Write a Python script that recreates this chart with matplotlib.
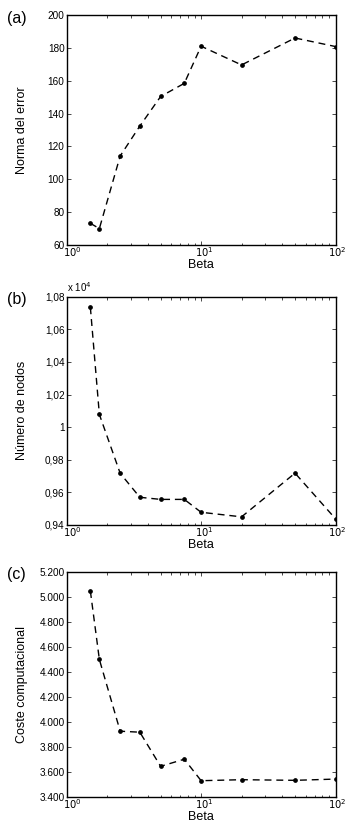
import numpy as np
import matplotlib
matplotlib.use("Agg")
import matplotlib.pyplot as plt
import matplotlib.transforms as mtrans
from matplotlib.ticker import FixedLocator, FixedFormatter, LogLocator, NullFormatter

plt.rcParams['font.family'] = ['Liberation Sans', 'DejaVu Sans']

# Data
beta = [1.5, 1.75, 2.5, 3.5, 5, 7.5, 10, 20, 50, 100]
error_norm = [73.2, 70.0, 114.2, 132.4, 150.4, 158.4, 181.0, 169.6, 186.0, 180.8]
num_nodes = [10735, 10078, 9717, 9570, 9557, 9557, 9478, 9450, 9718, 9438]
comp_cost = [5045, 4498, 3924, 3916, 3643, 3700, 3528, 3536, 3531, 3541]

# tick labels
ticks_a = [60, 80, 100, 120, 140, 160, 180, 200]
labels_a = [str(t) for t in ticks_a]
ticks_b = [9400, 9600, 9800, 10000, 10200, 10400, 10600, 10800]
labels_b = ['0,94', '0,96', '0,98', '1', '1,02', '1,04', '1,06', '1,08']
ticks_c = [3400, 3600, 3800, 4000, 4200, 4400, 4600, 4800, 5000, 5200]
labels_c = ['3.400', '3.600', '3.800', '4.000', '4.200', '4.400', '4.600', '4.800', '5.000', '5.200']

W, H = 347, 827
fig = plt.figure(figsize=(W / 100, H / 100), dpi=100)

def px_axes(top, bottom, left=66.7, right=335.5):
    return fig.add_axes([left / W, 1 - bottom / H, (right - left) / W, (bottom - top) / H])

panels = [
    (15, 245, error_norm, ticks_a, labels_a, 'Norma del error', '(a)'),
    (296.7, 525, num_nodes, ticks_b, labels_b, 'Número de nodos', '(b)'),
    (571.7, 796.7, comp_cost, ticks_c, labels_c, 'Coste computacional', '(c)'),
]

# small right shifts for the 10^0, 10^1, 10^2 labels (pixels)
xlabel_shift = [5.5, 3.5, 1.5]

for top, bottom, vals, yt, yl, ylabel, tag in panels:
    ax = px_axes(top, bottom)
    ax.plot(beta, vals, linestyle=(0, (5, 3.5)), color='black', linewidth=1.0,
            marker='o', markersize=2.4, markerfacecolor='black', markeredgecolor='black')
    ax.set_xscale('log')
    ax.set_xlim(1, 100)
    ax.set_ylim(yt[0], yt[-1])
    ax.yaxis.set_major_locator(FixedLocator(yt))
    ax.yaxis.set_major_formatter(FixedFormatter(yl))
    ax.xaxis.set_major_locator(FixedLocator([1, 10, 100]))
    ax.xaxis.set_major_formatter(FixedFormatter([r'$10^{0}$', r'$10^{1}$', r'$10^{2}$']))
    ax.xaxis.set_minor_locator(LogLocator(base=10, subs=np.arange(2, 10)))
    ax.xaxis.set_minor_formatter(NullFormatter())
    ax.tick_params(which='both', direction='in', top=True, right=True,
                   labelsize=7.2, width=0.5, pad=1.5)
    ax.tick_params(axis='x', which='major', pad=0.5)
    ax.tick_params(which='major', length=3)
    ax.tick_params(which='minor', length=1.8)
    for lab, dx in zip(ax.get_xticklabels(), xlabel_shift):
        lab.set_transform(lab.get_transform() +
                          mtrans.ScaledTranslation(dx / 100, 0, fig.dpi_scale_trans))
    for s in ax.spines.values():
        s.set_linewidth(1.0)
    ax.set_xlabel('Beta', fontsize=9, labelpad=0)
    ax.set_ylabel(ylabel, fontsize=9)
    ax.yaxis.set_label_coords(-0.145, 0.5)
    fig.text(7 / W, 1 - (top + 3) / H, tag, fontsize=11.5, ha='left', va='center')

fig.text(67 / W, 1 - 287 / H, r'x 10$^{4}$', fontsize=7, ha='left', va='center')

fig.savefig('out.png', dpi=100)
